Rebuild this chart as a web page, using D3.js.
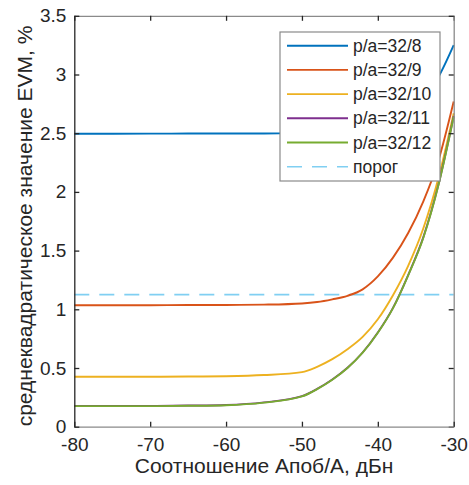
<!DOCTYPE html>
<html>
<head>
<meta charset="utf-8">
<script src="https://cdn.jsdelivr.net/npm/d3@7"></script>
<style>
  body { margin: 0; background: #fff; }
  text { font-family: "Liberation Sans", Arial, sans-serif; fill: #262626; }
</style>
</head>
<body>
<div id="chart"></div>
<script>
// EVM vs Апоб/А ratio

const xDb = [-80, -70, -65, -60, -55, -50, -48, -46, -44, -42, -40, -38, -36, -34, -32, -30]

const evm8  = [2.495, 2.496, 2.497, 2.497, 2.498, 2.5, 2.505, 2.51, 2.52, 2.54, 2.57, 2.62, 2.69, 2.79, 2.98, 3.25]
const evm9  = [1.035, 1.035, 1.036, 1.037, 1.04, 1.05, 1.062, 1.085, 1.115, 1.17, 1.28, 1.44, 1.65, 1.92, 2.27, 2.77]
const evm10 = [0.425, 0.425, 0.427, 0.43, 0.44, 0.465, 0.51, 0.575, 0.66, 0.765, 0.915, 1.12, 1.37, 1.69, 2.12, 2.67]
const evm11 = [0.177, 0.177, 0.18, 0.185, 0.207, 0.26, 0.322, 0.402, 0.502, 0.632, 0.802, 1.012, 1.292, 1.615, 2.065, 2.645]
const evm12 = [0.175, 0.175, 0.178, 0.183, 0.205, 0.258, 0.32, 0.40, 0.50, 0.63, 0.80, 1.01, 1.29, 1.61, 2.06, 2.64]
const threshold = 1.125

const seriesNames = ['p/a=32/8', 'p/a=32/9', 'p/a=32/10', 'p/a=32/11', 'p/a=32/12']
const seriesColors = ['#0072BD', '#D95319', '#EDB120', '#7E2F8E', '#77AC30']
const thresholdName = 'порог'
const thresholdColor = '#80cff2'

const xTicks = [-80, -70, -60, -50, -40, -30]
const yTicks = [0, 0.5, 1, 1.5, 2, 2.5, 3, 3.5]

const width = 469
const height = 485
const mLeft = 74.3, mRight = 453.7, mTop = 15.8, mBottom = 426.7

const svg = d3.select('#chart')
    .append('svg')
    .attr('width', width)
    .attr('height', height)

const xScale = d3.scaleLinear().domain([-80, -30]).range([mLeft, mRight])
const yScale = d3.scaleLinear().domain([0, 3.5]).range([mBottom, mTop])

// series lines
const allSeries = [evm8, evm9, evm10, evm11, evm12]
const line = d3.line()
    .x(d => xScale(d[0]))
    .y(d => yScale(d[1]))
    .curve(d3.curveMonotoneX)

const plot = svg.append('g')

plot.append('line')
    .attr('x1', xScale(-80))
    .attr('x2', xScale(-30))
    .attr('y1', yScale(threshold))
    .attr('y2', yScale(threshold))
    .attr('stroke', thresholdColor)
    .attr('stroke-width', 1.6)
    .attr('stroke-dasharray', '15,10')

allSeries.forEach((vals, i) => {
    plot.append('path')
        .datum(xDb.map((x, j) => [x, vals[j]]))
        .attr('d', line)
        .attr('fill', 'none')
        .attr('stroke', seriesColors[i])
        .attr('stroke-width', 1.9)
})

// axes, ticks pointing inward like matlab
const fmt = d => String(d)   // plain hyphen, not unicode minus
const xAxisB = d3.axisBottom(xScale).tickValues(xTicks).tickSizeInner(-5).tickSizeOuter(0).tickPadding(11).tickFormat(fmt)
const xAxisT = d3.axisTop(xScale).tickValues(xTicks).tickSizeInner(-5).tickSizeOuter(0).tickFormat('')
const yAxisL = d3.axisLeft(yScale).tickValues(yTicks).tickSizeInner(-5).tickSizeOuter(0).tickPadding(8).tickFormat(fmt)
const yAxisR = d3.axisRight(yScale).tickValues(yTicks).tickSizeInner(-5).tickSizeOuter(0).tickFormat('')

function styleAxis(g, domainColor) {
    g.select('.domain').attr('stroke', domainColor).attr('stroke-width', 1.3)
    g.selectAll('.tick line').attr('stroke', '#262626').attr('stroke-width', 1.3)
    g.selectAll('.tick text').style('font-size', '19px').attr('fill', '#262626')
        .style('font-family', '"Liberation Sans", Arial, sans-serif')
}

svg.append('g').attr('transform', `translate(0,${mTop})`).call(xAxisT).call(g => styleAxis(g, '#8a8a8a'))
svg.append('g').attr('transform', `translate(${mRight},0)`).call(yAxisR).call(g => styleAxis(g, '#8a8a8a'))
svg.append('g').attr('transform', `translate(0,${mBottom})`).call(xAxisB).call(g => styleAxis(g, '#8a8a8a'))
svg.append('g').attr('transform', `translate(${mLeft},0)`).call(yAxisL).call(g => styleAxis(g, '#262626'))

// titles
svg.append('text')
    .attr('x', (mLeft + mRight) / 2)
    .attr('y', 473)
    .attr('text-anchor', 'middle')
    .style('font-size', '21px')
    .text('Соотношение Апоб/А, дБн')

svg.append('text')
    .attr('transform', `translate(32,226) rotate(-90)`)
    .attr('text-anchor', 'middle')
    .style('font-size', '21px')
    .text('среднеквадратическое значение EVM, %')

// legend
const lg = svg.append('g')
lg.append('rect')
    .attr('x', 280).attr('y', 32)
    .attr('width', 160).attr('height', 149)
    .attr('fill', '#fff')
    .attr('stroke', '#8a8a8a')
    .attr('stroke-width', 1.2)

const legendItems = seriesNames.map((n, i) => ({name: n, color: seriesColors[i], dash: null}))
legendItems.push({name: thresholdName, color: thresholdColor, dash: '15,10'})

legendItems.forEach((d, i) => {
    const y = 45.7 + i * 24.2
    lg.append('line')
        .attr('x1', 287).attr('x2', 348)
        .attr('y1', y).attr('y2', y)
        .attr('stroke', d.color)
        .attr('stroke-width', d.dash ? 1.6 : 1.9)
        .attr('stroke-dasharray', d.dash)
    lg.append('text')
        .attr('x', 353)
        .attr('y', y + 6)
        .style('font-size', '17.5px')
        .text(d.name)
})
</script>
</body>
</html>
